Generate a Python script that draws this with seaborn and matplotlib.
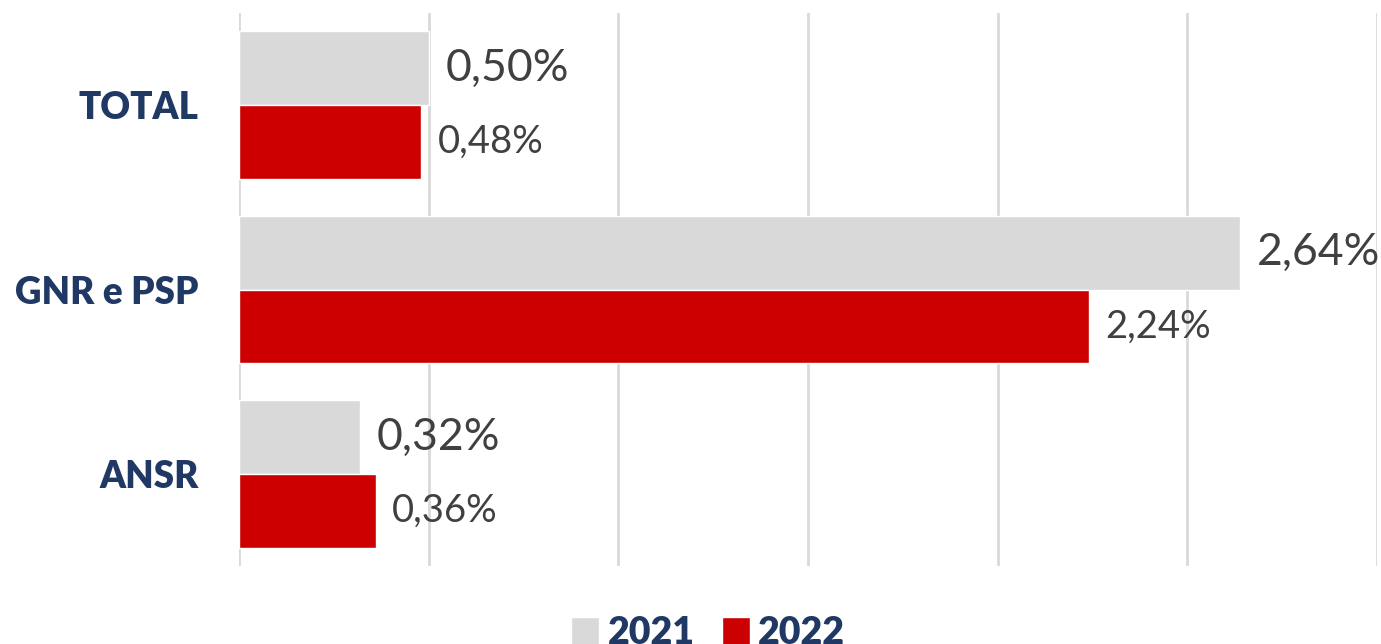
import pandas as pd
import matplotlib.pyplot as plt
import seaborn as sns
from matplotlib.patches import Patch

categories = ['TOTAL', 'GNR e PSP', 'ANSR']
years = ['2021', '2022']
values_2021 = [0.50, 2.64, 0.32]
values_2022 = [0.48, 2.24, 0.36]

df = pd.DataFrame({
    'categoria': categories * 2,
    'ano': [years[0]] * 3 + [years[1]] * 3,
    'valor': values_2021 + values_2022,
})

navy = '#203864'
palette = {'2021': '#D9D9D9', '2022': '#CC0000'}

sns.set_style('white')
plt.rcParams['font.family'] = ['Lato', 'DejaVu Sans']

fig = plt.figure(figsize=(13.81, 6.44), dpi=100)
ax = fig.add_axes([239 / 1381, 78 / 644, 1138 / 1381, 553 / 644])

sns.barplot(data=df, y='categoria', x='valor', hue='ano', orient='h',
            palette=palette, width=0.8, saturation=1, legend=False, ax=ax)

ax.set_xlim(0, 3.0)
ax.set_xticks([0, 0.5, 1.0, 1.5, 2.0, 2.5, 3.0])
ax.set_xticklabels([])
ax.grid(axis='x', color='#D9D9D9', linewidth=2)
ax.set_axisbelow(True)
for s in ax.spines.values():
    s.set_visible(False)
ax.tick_params(axis='both', length=0)
ax.tick_params(axis='y', pad=29)
ax.set_xlabel('')
ax.set_ylabel('')
for lab in ax.get_yticklabels():
    lab.set_fontweight('heavy')
    lab.set_fontsize(26.5)
    lab.set_color(navy)

sizes = [32, 27.5]
for cont, size in zip(ax.containers, sizes):
    labels = [f'{b.get_width():.2f}%'.replace('.', ',') for b in cont]
    ax.bar_label(cont, labels=labels, padding=12, fontsize=size, color='#404040')

handles = [Patch(facecolor=palette[y], label=y) for y in years]
leg = fig.legend(handles=handles, loc='center', bbox_to_anchor=(708 / 1381, 1 - 633 / 644),
                 ncol=2, frameon=False, handlelength=0.75, handleheight=0.75,
                 handletextpad=0.22, columnspacing=0.72, prop={'size': 27, 'weight': 'heavy'})
for t in leg.get_texts():
    t.set_color(navy)

fig.savefig('out.png', dpi=100)
